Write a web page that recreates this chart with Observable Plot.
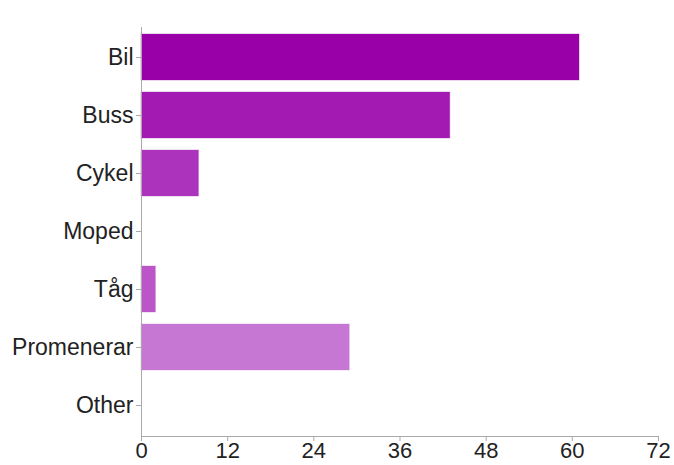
<!DOCTYPE html>
<html><head><meta charset="utf-8">
<script src="https://cdn.jsdelivr.net/npm/d3@7"></script>
<script src="https://cdn.jsdelivr.net/npm/@observablehq/plot@0.6"></script>
<style>
body{margin:0;background:#fff;}
#chart svg{display:block;}
</style>
</head><body><div id="chart"></div>
<script>
const categories = ["Bil","Buss","Cykel","Moped","Tåg","Promenerar","Other"];
const counts = [61, 43, 8, 0, 2, 29, 0];
const colors = ["#9900a8","#a31ab3","#ac33bc","#b444c2","#bb55c8","#c677d4","#cc88d9"];
const xTicks = [0,12,24,36,48,60,72];

const data = categories.map((c,i)=>({cat:c, n:counts[i], col:colors[i]}));

const chart = Plot.plot({
  width: 674, height: 465,
  marginLeft: 141, marginRight: 16, marginTop: 27, marginBottom: 29,
  style: {fontFamily: "Liberation Sans, Arial, sans-serif", fontSize: "23px", color: "#222", background: "#fff"},
  x: {domain: [0,72], ticks: xTicks, label: null},
  y: {domain: categories, padding: 0.2, paddingOuter: 0.1, label: null},
  marks: [
    Plot.barX(data, {y: "cat", x: "n", fill: "col", stroke: "col", strokeOpacity: 0.35, strokeWidth: 1}),
    Plot.frame({anchor: "bottom", stroke: "#aaa"}),
    Plot.ruleX([0], {stroke: "#aaa"}),
    Plot.axisX({ticks: xTicks, tickSize: 5, tickPadding: 1, stroke: "#aaa", fill: "#222", label: null, fontSize: 22}),
    Plot.axisY({tickSize: 5, tickPadding: 3, stroke: "#aaa", fill: "#222", label: null, fontSize: 23})
  ]
});
document.getElementById("chart").appendChild(chart);
</script>
</body></html>
